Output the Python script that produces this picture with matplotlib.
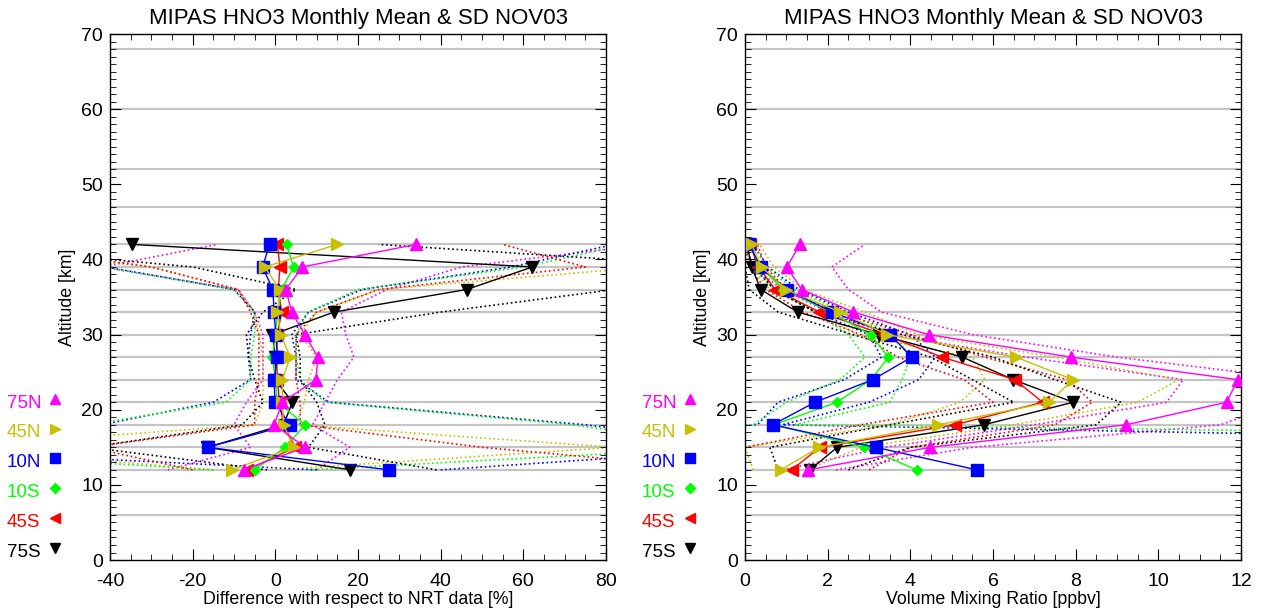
# MIPAS HNO3 monthly mean & SD, NOV03 -- two panels, IDL-like look
import numpy as np
import matplotlib
matplotlib.use("Agg")
import matplotlib.pyplot as plt
from matplotlib.ticker import MultipleLocator

plt.rcParams['font.family'] = ['Liberation Sans', 'DejaVu Sans']
plt.rcParams['axes.unicode_minus'] = False

alt = [12, 15, 18, 21, 24, 27, 30, 33, 36, 39, 42]
grid_alt = [6, 9, 12, 15, 18, 21, 24, 27, 30, 33, 36, 39, 42, 47, 52, 60, 68]

lats = ['75N', '45N', '10N', '10S', '45S', '75S']
colors = ['#ff00ff', '#c8c000', '#0000ff', '#00ff00', '#ff0000', '#000000']
markers = ['^', '>', 's', 'D', '<', 'v']
msizes = [8, 8, 8.5, 5, 8, 8]

# ---- left panel: difference wrt NRT [%] ----
diff_mean = {
    '75N': [-7.7, 7.2, -0.3, 1.7, 9.8, 10.3, 7.1, 4.0, 2.5, 6.5, 34.0],
    '45N': [-10.6, 4.4, 2.0, 1.7, 1.7, 3.6, 1.3, 0.5, 1.1, -2.6, 15.0],
    '10N': [27.5, -16.4, 3.5, -0.1, -0.3, 0.5, 0.1, -0.3, -0.6, -3.1, -1.4],
    '10S': [-5.0, 2.3, 7.2, 0.5, 0.0, -0.7, 0.0, 0.5, 1.5, 4.4, 2.7],
    '45S': [-6.8, 4.8, 2.0, 1.0, 0.5, 0.3, 0.5, 1.5, 0.7, 1.1, 0.5],
    '75S': [18.1, -16.5, 2.0, 4.1, 0.0, 0.0, -0.7, 14.2, 46.3, 62.2, -34.6],
}
diff_lo = {
    '75N': [-26, -6, -10, -7, -3, -3, -3, -5, -9, -42, -14],
    '45N': [-15, -80, -5, -3, -3, -3, -4, -5, -9, -30, -80],
    '10N': [10, -100, -42, -15, -6, -6.5, -6, -5, -10, -41, -70],
    '10S': [-15, -105, -45, -12, -6, -6, -5, -5, -10, -42, -80],
    '45S': [-20, -45, -5, -5, -4, -4, -4, -6, -9, -30, -70],
    '75S': [-2, -45, -8, -3, -5, -6.5, -7, -3, 5, -20, -80],
}
diff_hi = {
    '75N': [10, 18, 9, 12, 15, 19, 17, 16, 27, 45, 90],
    '45N': [0, 82, 5, 7, 8, 10, 6, 10, 25, 90, 110],
    '10N': [40, 120, 75, 13, 5, 5, 4, 8, 21, 57, 82],
    '10S': [8, 110, 72, 12, 6, 5, 5, 8, 20, 60, 85],
    '45S': [110, 50, 6, 6, 5, 5, 5, 10, 25, 75, 55],
    '75S': [39, 8, 12, 10, 6, 6, 5, 40, 82, 110, 25],
}

# ---- right panel: VMR [ppbv] ----
vmr_mean = {
    '75N': [1.53, 4.48, 9.22, 11.65, 11.92, 7.89, 4.44, 2.62, 1.37, 1.01, 1.33],
    '45N': [0.86, 1.80, 4.68, 7.36, 7.93, 6.56, 3.43, 2.30, 0.99, 0.40, 0.16],
    '10N': [5.61, 3.16, 0.67, 1.69, 3.09, 4.03, 3.51, 2.11, 1.01, 0.38, 0.10],
    '10S': [4.15, 2.89, 0.70, 2.22, 3.05, 3.47, 3.04, 2.06, 0.93, 0.36, 0.12],
    '45S': [1.13, 1.81, 5.08, 7.20, 6.53, 4.77, 3.35, 1.80, 0.73, 0.32, 0.12],
    '75S': [1.57, 2.23, 5.78, 7.94, 6.49, 5.26, 3.23, 1.27, 0.38, 0.16, 0.05],
}
vmr_lo = {
    '75N': [0.9, 3.4, 7.0, 10.2, 10.6, 6.8, 3.5, 2.0, 0.9, 0.2, 0.0],
    '45N': [0.2, 0.0, 3.5, 5.2, 5.8, 5.5, 2.7, 1.8, 0.6, 0.15, 0.0],
    '10N': [-30, -25, 0.3, 0.8, 2.4, 3.3, 3.0, 1.7, 0.7, 0.2, 0.0],
    '10S': [-40, -35, 0.2, 1.0, 2.3, 2.9, 2.5, 1.7, 0.7, 0.2, 0.0],
    '45S': [0.0, 0.0, 2.8, 6.0, 5.3, 3.7, 2.8, 1.4, 0.5, 0.1, 0.0],
    '75S': [0.8, 0.6, 3.5, 6.5, 5.5, 4.5, 2.6, 0.8, 0.1, 0.0, 0.0],
}
vmr_hi = {
    '75N': [2.2, 5.5, 11.5, 13.0, 13.5, 9.0, 5.5, 3.3, 2.5, 2.1, 2.9],
    '45N': [1.5, 2.8, 6.5, 9.5, 10.5, 7.5, 4.2, 2.9, 1.4, 0.7, 0.35],
    '10N': [40, 30, 0.9, 3.0, 4.2, 4.6, 4.0, 2.5, 1.3, 0.55, 0.2],
    '10S': [50, 45, 1.2, 3.5, 3.8, 4.0, 3.6, 2.4, 1.2, 0.5, 0.2],
    '45S': [3.0, 4.0, 7.5, 8.4, 7.8, 5.8, 4.0, 2.2, 1.0, 0.5, 0.3],
    '75S': [2.5, 4.0, 8.5, 9.1, 7.5, 6.0, 3.8, 1.7, 0.7, 0.3, 0.15],
}

title = 'MIPAS HNO3 Monthly Mean & SD NOV03'

fig = plt.figure(figsize=(12.66, 6.14), dpi=100)
ax1 = fig.add_axes([0.0869, 0.0879, 0.3918, 0.8567])
ax2 = fig.add_axes([0.5885, 0.0879, 0.3918, 0.8567])


def panel(ax, mean, lo, hi, xlim, xmaj, xmin, xlabel):
    for a in grid_alt:
        ax.axhline(a, color='#c4c4c4', lw=1.6, zorder=0)
    for lat, c in zip(lats, colors):
        ax.plot(lo[lat], alt, ls=':', color=c, lw=1.2, zorder=1)
        ax.plot(hi[lat], alt, ls=':', color=c, lw=1.2, zorder=1)
    # southern profiles first so 75N ends up on top
    for lat, c, m, ms in list(zip(lats, colors, markers, msizes))[::-1]:
        ax.plot(mean[lat], alt, color=c, lw=1.0, marker=m, ms=ms,
                mec=c, mfc=c, zorder=3)
    ax.set_xlim(*xlim)
    ax.set_ylim(0, 70)
    ax.xaxis.set_major_locator(MultipleLocator(xmaj))
    ax.xaxis.set_minor_locator(MultipleLocator(xmin))
    ax.yaxis.set_major_locator(MultipleLocator(10))
    ax.yaxis.set_minor_locator(MultipleLocator(1))
    ax.tick_params(which='both', direction='in', top=True, right=True,
                   labelsize=14, color='black')
    ax.tick_params(which='major', length=8)
    ax.tick_params(which='minor', length=4)
    ax.tick_params(axis='x', pad=9)
    ax.tick_params(axis='y', pad=5)
    ax.set_xlabel(xlabel, fontsize=12.8, labelpad=1)
    ax.set_ylabel('Altitude [km]', fontsize=12.8, labelpad=4)
    ax.set_title(title, fontsize=16, pad=7)
    for s in ax.spines.values():
        s.set_linewidth(1.0)

    # latitude key outside the axes, to the left
    for i, (lat, c, m) in enumerate(zip(lats, colors, markers)):
        yy = (157 - i * 29.8) / 526.0
        ax.text(-0.208, yy, lat, color=c, fontsize=13.5, transform=ax.transAxes,
                ha='left', va='center', clip_on=False)
        ax.plot([-0.111], [yy + 0.008], transform=ax.transAxes, marker=m,
                ms=7 if m != 'D' else 5, color=c, clip_on=False, ls='none')


panel(ax1, diff_mean, diff_lo, diff_hi, (-40, 80), 20, 5,
      'Difference with respect to NRT data [%]')
panel(ax2, vmr_mean, vmr_lo, vmr_hi, (0, 12), 2, 0.5,
      'Volume Mixing Ratio [ppbv]')

fig.savefig('out.png', dpi=100)
